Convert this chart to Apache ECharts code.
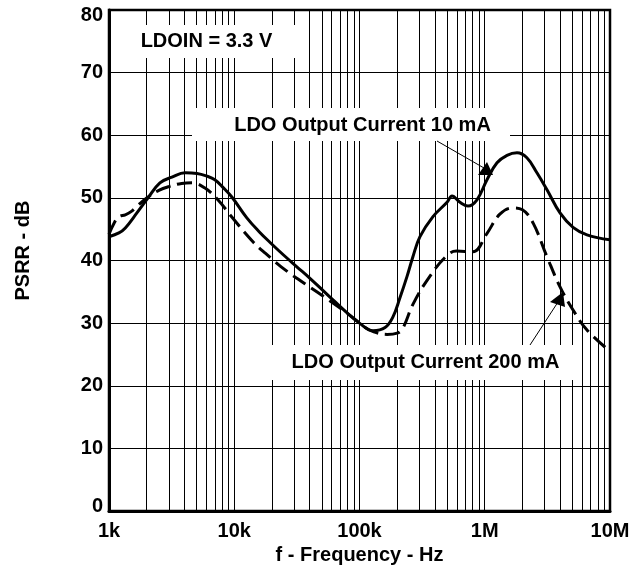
<!DOCTYPE html>
<html>
<head>
<meta charset="utf-8">
<script src="https://cdn.jsdelivr.net/npm/echarts@6/dist/echarts.min.js"></script>
<style>html,body{margin:0;padding:0;background:#fff}#c{width:644px;height:571px}</style>
</head>
<body>
<div id="c"></div>
<script>
// ---- data ----
var freq10 = [1000,1200,1350,1670,2050,2550,3180,4050,5040,6000,7000,8200,9600,12600,15800,20000,25000,31600,40000,50000,63000,80000,100000,128000,160000,185000,210000,240000,267000,304000,386000,500000,548000,634000,735000,867000,1042000,1253000,1506000,1809000,2170000,2610000,3140000,3990000,5070000,6550000,10000000];
var psrr10 = [43.8,44.4,45.2,47.6,50.0,52.4,53.3,54.0,53.9,53.5,52.9,51.6,50.1,46.8,44.6,42.6,40.8,39.0,37.2,35.4,33.5,31.6,30.0,28.8,29.3,31.0,34.0,37.5,40.6,43.8,47.0,49.3,50.3,49.3,48.7,49.7,52.9,55.6,56.8,57.2,56.4,54.0,51.3,47.6,45.3,44.1,43.3];

var freq200 = [1000,1100,1200,1350,1500,1700,2000,2500,3000,3800,4600,5800,7400,9600,14100,17600,26300,45600,70000,95000,107000,130000,166000,200000,222000,267000,362000,500000,595000,805000,1040000,1320000,1670000,2000000,2430000,3140000,3990000,5070000,6550000,10000000];
var psrr200 = [44.2,46.0,47.0,47.3,47.8,48.8,50.0,51.2,51.8,52.3,52.4,51.6,49.7,46.9,43.0,41.2,38.3,35.0,32.4,30.4,29.5,28.6,28.2,28.4,29.2,33.0,37.4,40.8,41.5,41.4,44.3,47.4,48.4,48.1,46.0,40.6,35.8,32.1,28.9,25.5];

var xTickValues = [1000,10000,100000,1000000,10000000];
var xTickLabels = ['1k','10k','100k','1M','10M'];
var yTicks = [0,10,20,30,40,50,60,70,80];

var labelLdoin = 'LDOIN = 3.3 V';
var label10 = 'LDO Output Current 10 mA';
var label200 = 'LDO Output Current 200 mA';
var xName = 'f - Frequency - Hz';
var yName = 'PSRR - dB';

// minor vertical gridlines at 2..9 x each decade
var minorGrid = [];
for (var d = 1000; d < 10000000; d *= 10) {
  for (var k = 2; k <= 9; k++) minorGrid.push({xAxis: d * k});
}

function zip(a, b) { return a.map(function (v, i) { return [v, b[i]]; }); }

var FONT = '"Liberation Sans", Arial, sans-serif';
var chart = echarts.init(document.getElementById('c'));
var option = {
  animation: false,
  backgroundColor: '#fff',
  grid: {left: 109, right: 34, top: 10, bottom: 60, show: true, borderColor: '#000', borderWidth: 2.5, backgroundColor: 'transparent'},
  xAxis: {
    type: 'log', logBase: 10, min: 1000, max: 10000000,
    name: xName, nameLocation: 'middle', nameGap: 34,
    nameTextStyle: {fontFamily: FONT, fontWeight: 'bold', fontSize: 20, color: '#000'},
    axisLine: {show: true, lineStyle: {color: '#000', width: 3}},
    axisTick: {show: false},
    splitLine: {show: true, lineStyle: {color: '#000', width: 1}},
    axisLabel: {
      fontFamily: FONT, fontWeight: 'bold', fontSize: 20, color: '#000', margin: 10,
      formatter: function (v) {
        for (var i = 0; i < xTickValues.length; i++) if (Math.abs(v / xTickValues[i] - 1) < 1e-6) return xTickLabels[i];
        return '';
      }
    }
  },
  yAxis: {
    type: 'value', min: 0, max: 80, interval: 10,
    name: yName, nameLocation: 'middle', nameGap: 76, nameRotate: 90,
    nameTextStyle: {fontFamily: FONT, fontWeight: 'bold', fontSize: 20, color: '#000', padding: [0, 0, 0, 20]},
    axisLine: {show: true, lineStyle: {color: '#000', width: 3}},
    axisTick: {show: false},
    splitLine: {show: true, lineStyle: {color: '#000', width: 1}},
    axisLabel: {
      fontFamily: FONT, fontWeight: 'bold', fontSize: 20, color: '#000', margin: 6,
      formatter: function (v) {
        if (v === yTicks[yTicks.length - 1]) return '{t|' + v + '}';
        if (v === yTicks[0]) return '{b|' + v + '}';
        return String(v);
      },
      rich: {
        t: {fontFamily: FONT, fontWeight: 'bold', fontSize: 20, color: '#000', padding: [11, 0, 0, 0]},
        b: {fontFamily: FONT, fontWeight: 'bold', fontSize: 20, color: '#000', padding: [0, 0, 9, 0]}
      }
    }
  },
  series: [
    {
      name: '10 mA', type: 'line', data: zip(freq10, psrr10), smooth: 0.4, symbol: 'none', z: 5,
      lineStyle: {color: '#000', width: 3},
      markLine: {silent: true, symbol: ['none', 'none'], label: {show: false}, z: 1,
        lineStyle: {color: '#000', width: 1, type: 'solid'}, data: minorGrid}
    },
    {
      name: '200 mA', type: 'line', data: zip(freq200, psrr200), smooth: 0.4, symbol: 'none', z: 5,
      lineStyle: {color: '#000', width: 3, type: [15, 7]}
    }
  ],
  graphic: {elements: [
    {type: 'rect', z: 100, shape: {x: 120, y: 25, width: 182, height: 33}, style: {fill: '#fff'}},
    {type: 'text', z: 101, x: 206.5, y: 41, style: {text: labelLdoin, font: 'bold 20px ' + FONT, fill: '#000', textAlign: 'center', textVerticalAlign: 'middle'}},
    {type: 'rect', z: 100, shape: {x: 192, y: 108, width: 318, height: 33}, style: {fill: '#fff'}},
    {type: 'text', z: 101, x: 362.5, y: 125, style: {text: label10, font: 'bold 20px ' + FONT, fill: '#000', textAlign: 'center', textVerticalAlign: 'middle'}},
    {type: 'rect', z: 100, shape: {x: 262, y: 345, width: 316, height: 35}, style: {fill: '#fff'}},
    {type: 'text', z: 101, x: 425.5, y: 362, style: {text: label200, font: 'bold 20px ' + FONT, fill: '#000', textAlign: 'center', textVerticalAlign: 'middle'}},
    // arrows
    {type: 'line', z: 102, shape: {x1: 437, y1: 141, x2: 484, y2: 168}, style: {stroke: '#000', lineWidth: 1}},
    {type: 'polygon', z: 102, shape: {points: [[493, 175], [478, 175], [487, 162]]}, style: {fill: '#000'}},
    {type: 'line', z: 102, shape: {x1: 530, y1: 345, x2: 558, y2: 302}, style: {stroke: '#000', lineWidth: 1}},
    {type: 'polygon', z: 102, shape: {points: [[563, 292], [550, 302], [565, 307]]}, style: {fill: '#000'}}
  ]}
};
chart.setOption(option);
</script>
</body>
</html>
